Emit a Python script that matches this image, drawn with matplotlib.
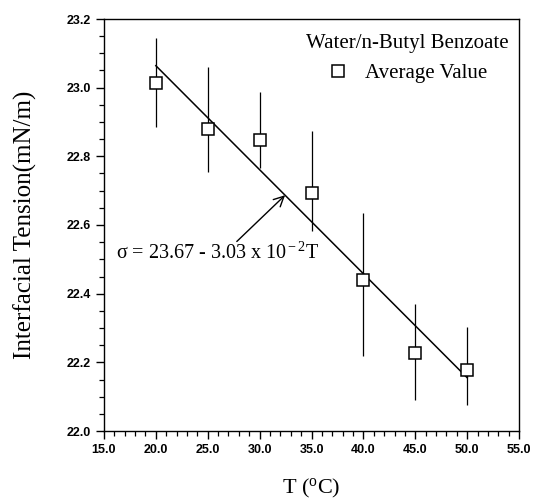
import numpy as np
import matplotlib
matplotlib.use("Agg")
import matplotlib.pyplot as plt
from matplotlib.ticker import MultipleLocator, FormatStrFormatter

# measured interfacial tension (average values) and spread
temps = [20, 25, 30, 35, 40, 45, 50]
tension = [23.015, 22.879, 22.847, 22.693, 22.439, 22.226, 22.177]
err_low = [0.13, 0.125, 0.08, 0.11, 0.22, 0.135, 0.10]
err_high = [0.13, 0.18, 0.14, 0.18, 0.195, 0.145, 0.125]

# linear fit: sigma = a - b*T
fit_a = 23.67
fit_b = 3.03e-2
fit_range = [20, 50]

plt.rcParams['font.family'] = ['Liberation Serif', 'DejaVu Serif']
plt.rcParams['mathtext.fontset'] = 'custom'
plt.rcParams['mathtext.rm'] = 'Liberation Serif'
plt.rcParams['mathtext.it'] = 'Liberation Serif:italic'

fig = plt.figure(figsize=(5.33, 5.0), dpi=100)
ax = fig.add_axes([0.195, 0.138, 0.779, 0.824])

# error bars and average values
ax.errorbar(temps, tension, yerr=[err_low, err_high], fmt='none',
            ecolor='black', elinewidth=0.9, capsize=0, zorder=2)
ax.plot(temps, tension, 's', markersize=8.5, markerfacecolor='white',
        markeredgecolor='black', markeredgewidth=1.1, zorder=3,
        label='Average Value')

# fitted line
fx = np.array(fit_range, dtype=float)
ax.plot(fx, fit_a - fit_b * fx, color='black', lw=1.1, zorder=2)

# equation and arrow to the fit line
tip_x = 32.45
ax.text(16.2, 22.503, '\u03c3 = 23.67 - 3.03 x 10$^{\\rm -2}$T',
        fontsize=14.5, va='baseline', ha='left')
ax.annotate('', xy=(tip_x, fit_a - fit_b * tip_x), xytext=(27.8, 22.552),
            arrowprops=dict(arrowstyle='->', color='black', lw=1.0,
                            mutation_scale=18, shrinkA=0, shrinkB=0))

ax.set_xlim(15, 55)
ax.set_ylim(22.0, 23.2)
ax.xaxis.set_major_locator(MultipleLocator(5))
ax.xaxis.set_minor_locator(MultipleLocator(1))
ax.yaxis.set_major_locator(MultipleLocator(0.2))
ax.yaxis.set_minor_locator(MultipleLocator(0.05))
ax.xaxis.set_major_formatter(FormatStrFormatter('%.1f'))
ax.yaxis.set_major_formatter(FormatStrFormatter('%.1f'))

ax.tick_params(which='major', direction='out', length=6, width=1.0)
ax.tick_params(which='minor', direction='out', length=3.5, width=0.9)
for lab in ax.get_xticklabels() + ax.get_yticklabels():
    lab.set_family('Liberation Sans')
    lab.set_fontsize(9)
    lab.set_fontweight('bold')

for sp in ax.spines.values():
    sp.set_linewidth(1.0)

ax.set_xlabel('T ($^{\\rm o}$C)', fontsize=16, labelpad=15)
ax.set_ylabel('Interfacial Tension(mN/m)', fontsize=18, labelpad=21)

leg = ax.legend(title='Water/n-Butyl Benzoate', loc='upper right',
                bbox_to_anchor=(1.0, 0.988),
                frameon=False, fontsize=15, title_fontsize=15,
                handletextpad=0.8, borderaxespad=0.2, handlelength=1.0,
                borderpad=0.3)

fig.savefig('out.png', dpi=100)
